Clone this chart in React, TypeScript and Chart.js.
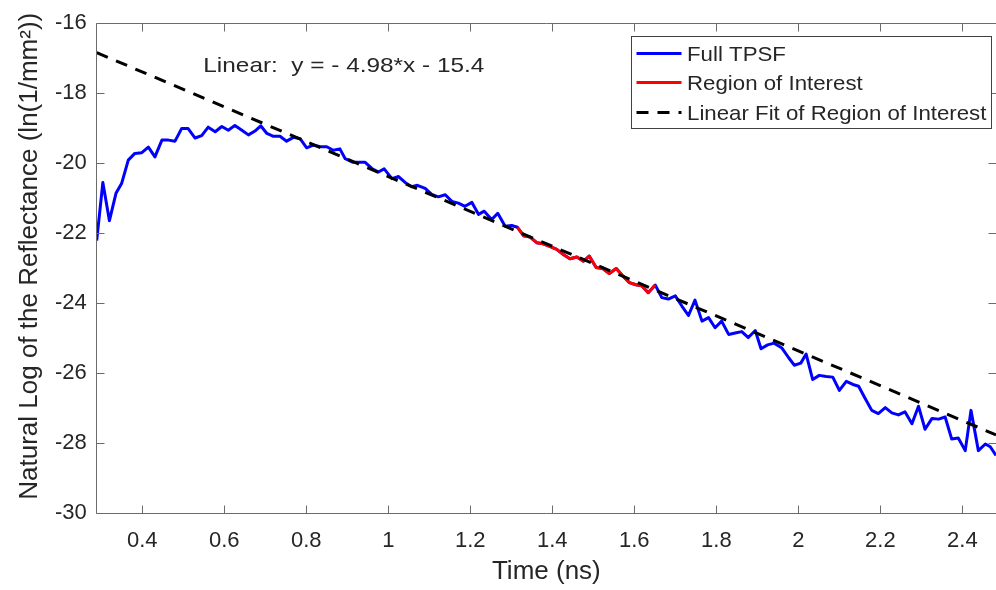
import React, { useEffect, useRef } from "react";
import { Chart, registerables } from "chart.js";

Chart.register(...registerables);

// ---- data ----
const timeNs = [
  0.289, 0.304, 0.320, 0.336, 0.350, 0.366, 0.382, 0.399, 0.415, 0.431,
  0.448, 0.464, 0.480, 0.496, 0.512, 0.529, 0.545, 0.561, 0.578, 0.594,
  0.610, 0.626, 0.643, 0.659, 0.675, 0.689, 0.704, 0.720, 0.736, 0.752,
  0.769, 0.785, 0.801, 0.817, 0.834, 0.850, 0.866, 0.882,
  0.895, 0.913, 0.930, 0.943, 0.960, 0.976, 0.990, 1.009, 1.025, 1.041,
  1.057, 1.071, 1.090, 1.106, 1.122, 1.139, 1.155, 1.171, 1.187, 1.204,
  1.220, 1.234, 1.252, 1.267, 1.285, 1.301, 1.315, 1.330, 1.346, 1.362,
  1.378, 1.395,
  1.411, 1.427, 1.443, 1.460, 1.476, 1.490, 1.507, 1.523, 1.539, 1.556,
  1.572, 1.588, 1.604, 1.618, 1.634, 1.651, 1.667, 1.683, 1.700, 1.716,
  1.732, 1.748, 1.765, 1.781, 1.797, 1.813, 1.830, 1.846, 1.862, 1.878,
  1.895, 1.909, 1.925, 1.941,
  1.960, 1.976, 1.990, 2.006, 2.019, 2.035, 2.051, 2.068, 2.084, 2.100,
  2.117, 2.133, 2.147, 2.163, 2.179, 2.195, 2.212, 2.228, 2.244, 2.260,
  2.277, 2.293, 2.309, 2.326, 2.342, 2.358, 2.374, 2.390, 2.407, 2.421,
  2.439, 2.456, 2.468, 2.482,
];

const fullTpsf = [
  -22.21, -20.55, -21.64, -20.86, -20.57, -19.91, -19.72, -19.70, -19.54, -19.82,
  -19.34, -19.34, -19.37, -19.01, -19.01, -19.28, -19.21, -18.97, -19.10, -18.95,
  -19.06, -18.92, -19.06, -19.19, -19.08, -18.93, -19.15, -19.23, -19.23, -19.37,
  -19.26, -19.30, -19.56, -19.48, -19.53, -19.53, -19.63, -19.59,
  -19.87, -19.97, -19.97, -19.97, -20.15, -20.25, -20.16, -20.44, -20.38, -20.55,
  -20.67, -20.63, -20.72, -20.89, -20.96, -20.90, -21.09, -21.14, -21.23, -21.12,
  -21.46, -21.37, -21.61, -21.43, -21.80, -21.78, -21.83, -22.07, -22.11, -22.27,
  -22.30, -22.38,
  -22.46, -22.61, -22.73, -22.68, -22.80, -22.65, -22.98, -23.01, -23.15, -23.01,
  -23.22, -23.41, -23.47, -23.50, -23.70, -23.48, -23.84, -23.88, -23.79, -24.08,
  -24.35, -23.91, -24.51, -24.41, -24.70, -24.51, -24.89, -24.85, -24.81, -24.98,
  -24.78, -25.30, -25.19, -25.14,
  -25.28, -25.55, -25.77, -25.71, -25.45, -26.18, -26.06, -26.09, -26.11, -26.49,
  -26.23, -26.32, -26.37, -26.72, -27.06, -27.15, -26.98, -27.13, -27.19, -27.10,
  -27.44, -26.94, -27.60, -27.29, -27.31, -27.25, -27.88, -27.85, -28.21, -27.06,
  -28.21, -28.02, -28.10, -28.35,
];

const roiStart = 1.315;
const roiEnd = 1.651;
const fitSlope = -4.98;
const fitIntercept = -15.4;

const xMin = 0.289;
const xMax = 2.482;
const yMin = -30;
const yMax = -16;

const xTicks = [0.4, 0.6, 0.8, 1.0, 1.2, 1.4, 1.6, 1.8, 2.0, 2.2, 2.4];
const xTickLabels = ["0.4", "0.6", "0.8", "1", "1.2", "1.4", "1.6", "1.8", "2", "2.2", "2.4"];
const yTicks = [-30, -28, -26, -24, -22, -20, -18, -16];
const yTickLabels = ["-30", "-28", "-26", "-24", "-22", "-20", "-18", "-16"];

const legendLabels = ["Full TPSF", "Region of Interest", "Linear Fit of Region of Interest"];
const fitLabel = "Linear:  y = - 4.98*x - 15.4";
const fitLabelAt = { x: 0.549, y: -17.384 };

const xTitle = "Time (ns)";
const yTitle = "Natural Log of the Reflectance (ln(1/mm\u00B2))";

// ---- styles ----
const FONT = "'Liberation Sans', Arial, Helvetica, sans-serif";
const TEXT = "#262626";
const AXIS = "#6b6b6b";
const BLUE = "#0000ff";
const RED = "#ff0000";
const BLACK = "#000000";
const DASH = [12, 9];

function stretchedText(ctx: any, text: string, x: number, y: number, sx: number) {
  ctx.save();
  ctx.translate(x, y);
  ctx.scale(sx, 1);
  ctx.fillText(text, 0, 0);
  ctx.restore();
}

const overlayPlugin = {
  id: "matlabOverlay",
  afterDatasetsDraw(chart: any) {
    const { ctx, chartArea: a, scales } = chart;
    const xs = scales.x;
    const ys = scales.y;
    ctx.save();
    // frame
    ctx.strokeStyle = AXIS;
    ctx.lineWidth = 1;
    const L = Math.floor(a.left) + 0.5;
    const T = Math.floor(a.top) + 0.5;
    const B = Math.floor(a.bottom) + 0.5;
    const R = Math.floor(a.right) + 0.5;
    ctx.beginPath();
    ctx.moveTo(L, T);
    ctx.lineTo(R, T);
    ctx.lineTo(R, B);
    ctx.lineTo(L, B);
    ctx.closePath();
    ctx.stroke();
    // inward ticks
    const tl = 8;
    ctx.beginPath();
    xTicks.forEach((v) => {
      const px = Math.round(xs.getPixelForValue(v)) + 0.5;
      ctx.moveTo(px, B);
      ctx.lineTo(px, B - tl);
      ctx.moveTo(px, T);
      ctx.lineTo(px, T + tl);
    });
    yTicks.forEach((v) => {
      const py = Math.round(ys.getPixelForValue(v)) + 0.5;
      ctx.moveTo(L, py);
      ctx.lineTo(L + tl, py);
      ctx.moveTo(R, py);
      ctx.lineTo(R - tl, py);
    });
    ctx.stroke();

    // y-axis title
    ctx.fillStyle = TEXT;
    ctx.font = `26px ${FONT}`;
    ctx.textAlign = "center";
    ctx.textBaseline = "middle";
    ctx.save();
    ctx.translate(a.left - 67, (a.top + a.bottom) / 2 - 12);
    ctx.rotate(-Math.PI / 2);
    ctx.fillText(yTitle, 0, 0);
    ctx.restore();

    // fit equation text
    ctx.fillStyle = TEXT;
    ctx.font = `21px ${FONT}`;
    ctx.textAlign = "left";
    ctx.textBaseline = "alphabetic";
    stretchedText(ctx, fitLabel, xs.getPixelForValue(fitLabelAt.x), ys.getPixelForValue(fitLabelAt.y), 1.16);

    // legend box
    const bw = 360;
    const bh = 92;
    const bx = Math.floor(a.right - 4.3 - bw) + 0.5;
    const by = Math.floor(a.top + 12.8) + 0.5;
    ctx.fillStyle = "#ffffff";
    ctx.fillRect(bx, by, bw, bh);
    ctx.strokeStyle = "#404040";
    ctx.lineWidth = 1;
    ctx.strokeRect(bx, by, bw, bh);
    const rows = [17, 46, 76];
    const colors = [BLUE, RED, BLACK];
    ctx.font = `21px ${FONT}`;
    ctx.textBaseline = "middle";
    rows.forEach((ry, i) => {
      const yy = by + ry;
      ctx.beginPath();
      ctx.strokeStyle = colors[i];
      ctx.lineWidth = 3;
      ctx.setLineDash(i === 2 ? DASH : []);
      ctx.moveTo(bx + 5, yy);
      ctx.lineTo(bx + 50, yy);
      ctx.stroke();
      ctx.setLineDash([]);
      ctx.fillStyle = TEXT;
      stretchedText(ctx, legendLabels[i], bx + 55.5, yy + 2, 1.06);
    });
    ctx.restore();
  },
};

export default function App() {
  const ref = useRef<HTMLCanvasElement | null>(null);

  useEffect(() => {
    document.body.style.margin = "0";
    if (!ref.current) return;
    const full = timeNs.map((t, i) => ({ x: t, y: fullTpsf[i] }));
    const roi = full.filter((p) => p.x >= roiStart - 1e-9 && p.x <= roiEnd + 1e-9);
    const fit = [xMin, xMax].map((t) => ({ x: t, y: fitSlope * t + fitIntercept }));

    const chart = new Chart(ref.current, {
      type: "line",
      data: {
        datasets: [
          {
            label: legendLabels[0],
            data: full,
            borderColor: BLUE,
            borderWidth: 3,
            pointRadius: 0,
            tension: 0,
            order: 2,
            borderJoinStyle: "round",
          },
          {
            label: legendLabels[1],
            data: roi,
            borderColor: RED,
            borderWidth: 3,
            pointRadius: 0,
            tension: 0,
            order: 1,
            borderJoinStyle: "round",
          },
          {
            label: legendLabels[2],
            data: fit,
            borderColor: BLACK,
            borderWidth: 3,
            borderDash: DASH,
            pointRadius: 0,
            tension: 0,
            order: 0,
          },
        ],
      },
      options: {
        animation: false,
        responsive: false,
        devicePixelRatio: 1,
        layout: { padding: { top: 19.5, right: 0, bottom: 0, left: 0 } },
        plugins: {
          legend: { display: false },
          tooltip: { enabled: false },
        },
        scales: {
          x: {
            type: "linear",
            min: xMin,
            max: xMax,
            afterFit: (s: any) => {
              s.height = 76.7;
            },
            afterBuildTicks: (s: any) => {
              s.ticks = xTicks.map((v) => ({ value: v }));
            },
            ticks: {
              autoSkip: false,
              maxRotation: 0,
              includeBounds: false,
              padding: 14,
              color: TEXT,
              font: { family: FONT, size: 22 },
              callback: (v: any) => {
                const i = xTicks.findIndex((t) => Math.abs(t - Number(v)) < 1e-9);
                return i >= 0 ? xTickLabels[i] : "";
              },
            },
            grid: { display: false, drawTicks: false },
            border: { display: false },
            title: {
              display: true,
              text: xTitle,
              color: TEXT,
              font: { family: FONT, size: 26 },
              padding: { top: 0, bottom: 3 },
            },
          },
          y: {
            type: "linear",
            min: yMin,
            max: yMax,
            afterFit: (s: any) => {
              s.width = 96.7;
            },
            afterBuildTicks: (s: any) => {
              s.ticks = yTicks.map((v) => ({ value: v }));
            },
            ticks: {
              autoSkip: false,
              includeBounds: false,
              padding: 10,
              color: TEXT,
              font: { family: FONT, size: 22 },
              callback: (v: any) => {
                const i = yTicks.findIndex((t) => Math.abs(t - Number(v)) < 1e-9);
                return i >= 0 ? yTickLabels[i] : "";
              },
            },
            grid: { display: false, drawTicks: false },
            border: { display: false },
            title: { display: false, text: yTitle },
          },
        },
      },
      plugins: [overlayPlugin],
    } as any);
    return () => chart.destroy();
  }, []);

  return (
    <div style={{ width: 996, height: 590, position: "relative", background: "#fff" }}>
      <canvas ref={ref} width={996} height={590} style={{ display: "block" }} />
    </div>
  );
}
